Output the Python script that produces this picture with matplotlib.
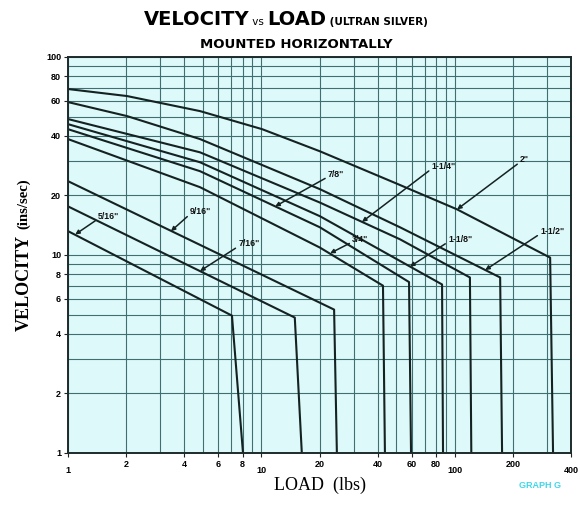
import numpy as np
import matplotlib
matplotlib.use('Agg')
import matplotlib.pyplot as plt
import matplotlib.transforms as mtransforms

# curve data (load in lbs, velocity in ins/sec)
load_5_16 = [1, 7.05, 8.04]
vel_5_16 = [13.2, 4.94, 1]
load_7_16 = [1, 14.9, 16.2]
vel_7_16 = [17.6, 4.83, 1]
load_9_16 = [1, 23.8, 24.6]
vel_9_16 = [23.6, 5.3, 1]
load_3_4 = [1, 4.82, 20.1, 42.6, 43.6]
vel_3_4 = [38.5, 22.0, 10.9, 7.0, 1]
load_7_8 = [1, 4.82, 20.1, 58.1, 59.5]
vel_7_8 = [43.2, 26.5, 13.8, 7.3, 1]
load_1_1_8 = [1, 4.82, 20.1, 86.1, 87.1]
vel_1_1_8 = [45.8, 29.4, 15.7, 7.1, 1]
load_1_1_4 = [1, 4.82, 20.1, 52.2, 120, 122]
vel_1_1_4 = [48.6, 33.0, 18.4, 12.0, 7.7, 1]
load_1_1_2 = [1, 2.02, 4.82, 20.1, 52.2, 172, 176]
vel_1_1_2 = [59.2, 50.3, 38.5, 21.5, 13.8, 7.7, 1]
load_2 = [1, 2.02, 4.82, 10.1, 20.1, 50.9, 103, 312, 323]
vel_2 = [68.9, 63.5, 53.3, 43.2, 33.4, 22.8, 17.0, 9.7, 1]

curves = [(load_5_16, vel_5_16), (load_7_16, vel_7_16), (load_9_16, vel_9_16),
          (load_3_4, vel_3_4), (load_7_8, vel_7_8), (load_1_1_8, vel_1_1_8),
          (load_1_1_4, vel_1_1_4), (load_1_1_2, vel_1_1_2), (load_2, vel_2)]

# size labels: text, arrow tip (load, vel), text position (load, vel)
size_labels = ['5/16"', '9/16"', '7/16"', '7/8"', '1-1/4"', '2"', '3/4"', '1-1/8"', '1-1/2"']
tip_load = [1.09, 3.41, 4.82, 11.8, 33.2, 103, 22.7, 58.8, 144]
tip_vel = [12.7, 13.2, 8.3, 17.6, 14.7, 17.0, 10.2, 8.75, 8.4]
txt_load = [1.43, 4.28, 7.6, 22.1, 76, 218, 29.5, 92.5, 277]
txt_vel = [15.7, 16.6, 11.4, 25.6, 28.1, 30.4, 12.0, 12.0, 13.2]

x_ticks = [1, 2, 4, 6, 8, 10, 20, 40, 60, 80, 100, 200, 400]
y_ticks = [1, 2, 4, 6, 8, 10, 20, 40, 60, 80, 100]
x_grid = [1, 2, 3, 4, 5, 6, 7, 8, 9, 10, 20, 30, 40, 50, 60, 70, 80, 90, 100, 200, 300, 400]
y_grid = [1, 2, 3, 4, 5, 6, 7, 8, 9, 10, 20, 30, 40, 50, 60, 70, 80, 90, 100]

W, H = 580, 515
fig = plt.figure(figsize=(W / 100, H / 100), dpi=100)
fig.patch.set_facecolor('white')
ax = fig.add_axes([68 / W, 1 - 453 / H, 503 / W, 396 / H])
ax.set_facecolor('#def9f9')
ax.set_xscale('log')
ax.set_yscale('log')
ax.set_xlim(1, 400)
ax.set_ylim(1, 100)

gridc = '#3f6f70'
ax.set_xticks(x_grid, minor=True)
ax.set_yticks(y_grid, minor=True)
ax.set_xticks(x_ticks)
ax.set_yticks(y_ticks)
ax.set_xticklabels([str(v) for v in x_ticks])
ax.set_yticklabels([str(v) for v in y_ticks])
ax.tick_params(which='minor', length=0)
ax.tick_params(which='major', length=3, width=0.8, labelsize=6.5, pad=2, color='#222')
ax.grid(which='both', color=gridc, lw=0.8)
ax.set_axisbelow(True)
for lab in ax.get_xticklabels() + ax.get_yticklabels():
    lab.set_fontweight('bold')
    lab.set_family(['Liberation Sans', 'DejaVu Sans'])
# staggered x labels
for lab, v in zip(ax.get_xticklabels(), x_ticks):
    if v in (1, 10, 100, 400):
        lab.set_transform(lab.get_transform() + mtransforms.ScaledTranslation(0, -6 / 100, fig.dpi_scale_trans))
for sp in ax.spines.values():
    sp.set_color('#1d2b2b')
    sp.set_linewidth(1.4)

for lx, vy in curves:
    ax.plot(lx, vy, color='#142222', lw=1.5, solid_joinstyle='round')

for s, tl, tv, xl, xv in zip(size_labels, tip_load, tip_vel, txt_load, txt_vel):
    ax.annotate(s, xy=(tl, tv), xytext=(xl, xv), ha='left', va='center',
                fontsize=6.3, fontweight='bold', color='#111',
                family=['Liberation Sans', 'DejaVu Sans'],
                arrowprops=dict(arrowstyle='-|>', color='#142222', lw=1.1,
                                shrinkA=0, shrinkB=0, mutation_scale=6, relpos=(0, 0.2)))

renderer = fig.canvas.get_renderer()


def row(pieces, xc, y):
    # place text pieces side by side, centred on xc (pixels)
    ts = [fig.text(0, 1 - y / H, s, va='baseline', ha='left', **kw) for s, kw in pieces]
    ws = [t.get_window_extent(renderer).width for t in ts]
    x = xc - sum(ws) / 2
    for t, w in zip(ts, ws):
        t.set_x(x / W)
        x += w


narrow = ['DejaVu Sans', 'Liberation Sans']
big = dict(fontsize=14, fontweight='bold', family=narrow)
small = dict(fontsize=7.5, fontweight='bold', family=narrow)
row([('VELOCITY', big), (' vs ', dict(fontsize=7.5, family=narrow)),
     ('LOAD', big), (' (ULTRAN SILVER)', small)], 286, 25)
row([('MOUNTED HORIZONTALLY', dict(fontsize=9.5, fontweight='bold', family=narrow))], 296, 48)

# y label
serif = ['Liberation Serif', 'DejaVu Serif']
t1 = fig.text(24 / W, 0, 'VELOCITY', rotation=90, ha='center', va='bottom',
              fontsize=13, fontweight='bold', family=serif)
t2 = fig.text(24 / W, 0, '(ins/sec)', rotation=90, ha='center', va='bottom',
              fontsize=10.5, fontweight='bold', family=serif)
h1 = t1.get_window_extent(renderer).height
h2 = t2.get_window_extent(renderer).height
ybot = 255 + (h1 + h2 + 6) / 2
t1.set_y(1 - ybot / H)
t2.set_y(1 - (ybot - h1 - 6) / H)

fig.text(320 / W, 1 - 490 / H, 'LOAD  (lbs)', ha='center', va='baseline',
         fontsize=13, family=serif)
fig.text(540 / W, 1 - 488 / H, 'GRAPH G', ha='center', va='baseline',
         fontsize=6.5, fontweight='bold', color='#3fd8ea', family=['Liberation Sans', 'DejaVu Sans'])

fig.savefig('out.png', dpi=100)
